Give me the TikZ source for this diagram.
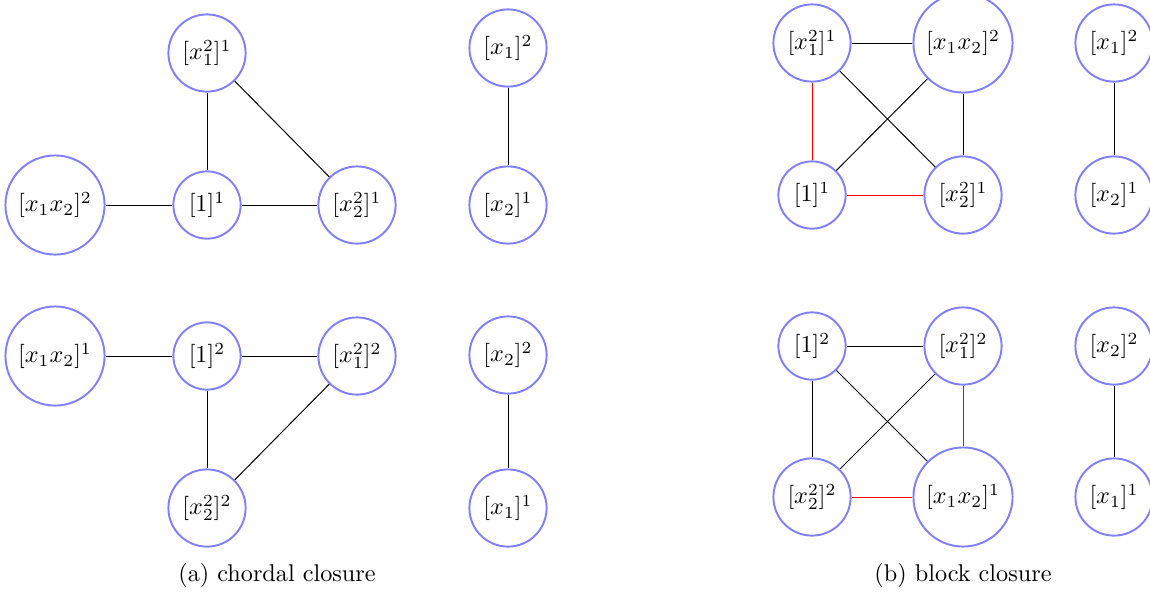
\documentclass[tikz,border=0pt]{standalone}
\begin{document}
\begin{tikzpicture}[x=0.413pt,y=-0.413pt,
  vtx/.style={circle,draw=blue!50,thick,inner sep=3.33pt},
  edg/.style={black,line width=0.4pt},
  redg/.style={red,line width=0.4pt}]
\useasboundingbox (0,0) rectangle (1150,596);
% (a) top
\node[vtx] (a1) at (207,53) {$[x_1^2]^1$};
\node[vtx] (a2) at (55,205) {$[x_1x_2]^2$};
\node[vtx] (a3) at (207,205) {$[1]^1$};
\node[vtx] (a4) at (357,205) {$[x_2^2]^1$};
\node[vtx] (a5) at (508,48) {$[x_1]^2$};
\node[vtx] (a6) at (508,205) {$[x_2]^1$};
\draw[edg] (a2) -- (a3);
\draw[edg] (a3) -- (a4);
\draw[edg] (a1) -- (a3);
\draw[edg] (a1) -- (a4);
\draw[edg] (a5) -- (a6);
% (a) bottom
\node[vtx] (b1) at (55,356) {$[x_1x_2]^1$};
\node[vtx] (b2) at (207,356) {$[1]^2$};
\node[vtx] (b3) at (357,356) {$[x_1^2]^2$};
\node[vtx] (b4) at (207,508) {$[x_2^2]^2$};
\node[vtx] (b5) at (508,355) {$[x_2]^2$};
\node[vtx] (b6) at (508,508) {$[x_1]^1$};
\draw[edg] (b1) -- (b2);
\draw[edg] (b2) -- (b3);
\draw[edg] (b2) -- (b4);
\draw[edg] (b3) -- (b4);
\draw[edg] (b5) -- (b6);
\node (capa) at (277,575) {(a) chordal closure};
% (b) top
\node[vtx] (c1) at (812,43) {$[x_1^2]^1$};
\node[vtx] (c2) at (963,43) {$[x_1x_2]^2$};
\node[vtx] (c3) at (812,195) {$[1]^1$};
\node[vtx] (c4) at (963,195) {$[x_2^2]^1$};
\node[vtx] (c5) at (1114,43) {$[x_1]^2$};
\node[vtx] (c6) at (1114,195) {$[x_2]^1$};
\draw[edg] (c1) -- (c2);
\draw[redg] (c1) -- (c3);
\draw[redg] (c3) -- (c4);
\draw[edg] (c1) -- (c4);
\draw[edg] (c3) -- (c2);
\draw[edg] (c2) -- (c4);
\draw[edg] (c5) -- (c6);
% (b) bottom
\node[vtx] (d1) at (812,346) {$[1]^2$};
\node[vtx] (d2) at (963,346) {$[x_1^2]^2$};
\node[vtx] (d3) at (812,497) {$[x_2^2]^2$};
\node[vtx] (d4) at (963,497) {$[x_1x_2]^1$};
\node[vtx] (d5) at (1114,346) {$[x_2]^2$};
\node[vtx] (d6) at (1114,497) {$[x_1]^1$};
\draw[edg] (d1) -- (d2);
\draw[edg] (d1) -- (d3);
\draw[edg] (d1) -- (d4);
\draw[edg] (d2) -- (d3);
\draw[redg] (d2) -- (d4);
\draw[redg] (d3) -- (d4);
\draw[edg] (d5) -- (d6);
\node (capb) at (963,575) {(b) block closure};
\end{tikzpicture}
\end{document}
